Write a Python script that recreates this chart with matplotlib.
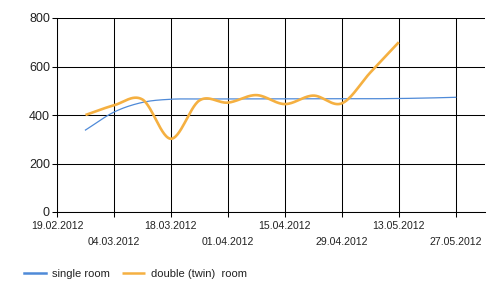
import numpy as np
import matplotlib
matplotlib.use("Agg")
import matplotlib.pyplot as plt
import matplotlib.dates as mdates

plt.rcParams['font.family'] = ['Liberation Sans', 'DejaVu Sans']

# ---- data ----
single_dates = ["2012-02-26", "2012-03-04", "2012-03-11", "2012-03-18", "2012-03-25",
                "2012-04-01", "2012-04-08", "2012-04-15", "2012-04-22", "2012-04-29",
                "2012-05-06", "2012-05-13", "2012-05-20", "2012-05-27"]
single_values = [338, 412, 452, 465, 466, 466, 466, 466, 467, 467, 467, 468, 470, 473]

double_dates = ["2012-02-26", "2012-03-04", "2012-03-11", "2012-03-18", "2012-03-25",
                "2012-04-01", "2012-04-08", "2012-04-15", "2012-04-22", "2012-04-29",
                "2012-05-06", "2012-05-13"]
double_values = [400, 440, 464, 302, 460, 451, 482, 445, 480, 448, 575, 700]

tick_dates_major = ["2012-02-19", "2012-03-18", "2012-04-15", "2012-05-13"]
tick_dates_minor = ["2012-03-04", "2012-04-01", "2012-04-29", "2012-05-27"]
y_ticks = [0, 200, 400, 600, 800]
series_names = ["single room", "double (twin)  room"]


def to_num(ds):
    return np.array([mdates.date2num(np.datetime64(d)) for d in ds], dtype=float)


def catmull_rom(x, y, n=30):
    """Smooth curve through points (rendering only)."""
    px = np.concatenate([[2 * x[0] - x[1]], x, [2 * x[-1] - x[-2]]])
    py = np.concatenate([[2 * y[0] - y[1]], y, [2 * y[-1] - y[-2]]])
    ox, oy = [], []
    t = np.linspace(0, 1, n, endpoint=False)
    for i in range(1, len(px) - 2):
        for arr, out in ((px, ox), (py, oy)):
            p0, p1, p2, p3 = arr[i - 1], arr[i], arr[i + 1], arr[i + 2]
            out.extend(0.5 * ((2 * p1) + (-p0 + p2) * t +
                              (2 * p0 - 5 * p1 + 4 * p2 - p3) * t ** 2 +
                              (-p0 + 3 * p1 - 3 * p2 + p3) * t ** 3))
    ox.append(x[-1]); oy.append(y[-1])
    return np.array(ox), np.array(oy)


def fmt(d):
    return np.datetime64(d).astype(object).strftime("%d.%m.%Y")


fig = plt.figure(figsize=(5.0, 2.96), dpi=100)
ax = fig.add_axes([57 / 500, 1 - 212 / 296, (485 - 57) / 500, (212 - 18) / 296])

blue = "#4f8ad8"
orange = "#f5b041"

sx, sy = catmull_rom(to_num(single_dates), np.array(single_values, float))
dx, dy = catmull_rom(to_num(double_dates), np.array(double_values, float))
l1, = ax.plot(sx, sy, color=blue, lw=0.9, label=series_names[0], zorder=3)
l2, = ax.plot(dx, dy, color=orange, lw=1.9, label=series_names[1], zorder=4,
              solid_capstyle='butt')

x0 = mdates.date2num(np.datetime64("2012-02-19"))
ax.set_xlim(x0, x0 + 105.2)
ax.set_ylim(0, 800)

ax.set_xticks(to_num(tick_dates_major))
ax.set_xticks(to_num(tick_dates_minor), minor=True)
ax.set_xticklabels([fmt(d) for d in tick_dates_major])
ax.set_xticklabels([fmt(d) for d in tick_dates_minor], minor=True)
ax.set_yticks(y_ticks)
ax.set_yticklabels([str(v) for v in y_ticks])

ax.tick_params(axis='x', which='both', length=3.6, width=0.75, color='black',
               labelsize=7.6, labelcolor='#222222')
ax.tick_params(axis='x', which='major', pad=3)
ax.tick_params(axis='x', which='minor', pad=14.5)
ax.tick_params(axis='y', length=3.6, width=0.75, color='black', labelsize=9,
               labelcolor='#222222', pad=1.5)

ax.grid(True, which='both', color='black', lw=0.75)
ax.set_axisbelow(True)
for s in ('top', 'right'):
    ax.spines[s].set_visible(False)
for s in ('left', 'bottom'):
    ax.spines[s].set_color('black')
    ax.spines[s].set_linewidth(0.75)

fig.legend(handles=[l1, l2], loc='center left', bbox_to_anchor=(24 / 500, 1 - 274 / 296),
           ncol=2, frameon=False, fontsize=8, borderpad=0, borderaxespad=0,
           handlelength=2.0, handletextpad=0.55, columnspacing=1.1,
           labelcolor='#222222')
for h in fig.legends[0].get_lines():
    h.set_linewidth(1.8)

fig.savefig("out.png", dpi=100, facecolor='white')
